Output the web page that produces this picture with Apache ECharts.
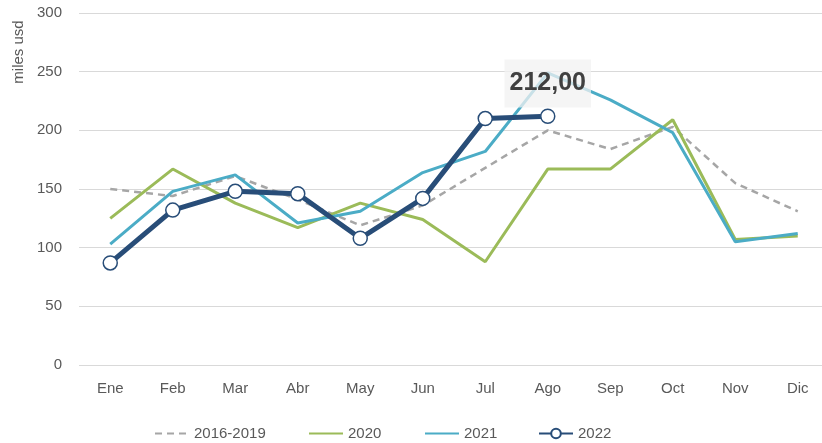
<!DOCTYPE html>
<html><head><meta charset="utf-8">
<script src="https://cdn.jsdelivr.net/npm/echarts@6/dist/echarts.min.js"></script>
<style>html,body{margin:0;padding:0;background:#fff}#c{width:822px;height:443px}</style>
</head><body><div id="c"></div>
<script>
const months = ['Ene','Feb','Mar','Abr','May','Jun','Jul','Ago','Sep','Oct','Nov','Dic'];
const avg1619 = [150,144,161,141,119,136,168,200,184,203,155,131];
const y2020 = [125,167,138,117,138,124,88,167,167,209,107,110];
const y2021 = [103,148,162,121,131,164,182,249,226,198,105,112];
const y2022 = [87,132,148,146,108,142,210,212];
const yTicks = {min:0, max:300, interval:50};
const yName = 'miles usd';
const labelText = '212,00';

const chart = echarts.init(document.getElementById('c'), null, {renderer:'canvas'});
const font = 'Liberation Sans, Arial, sans-serif';
const txt = '#595959';
const lastIdx = y2022.length - 1;
function legendAt(left, name, hideSym){
  const item = hideSym ? {name:name, itemStyle:{opacity:0}} : {name:name};
  return {data:[item], left:left, top:421, itemWidth:34, itemHeight:12, itemGap:4,
    textStyle:{fontFamily:font, fontSize:15, color:txt}, selectedMode:false};
}
chart.setOption({
  animation:false,
  grid:{left:79, width:750, top:13, bottom:78, outerBoundsMode:'none', containLabel:false},
  graphic:[{type:'text', x:19, y:52, rotation:Math.PI/2,
    style:{text:yName, font:'15px Liberation Sans, Arial, sans-serif', fill:txt,
      align:'center', verticalAlign:'middle'}}],
  legend:[legendAt(149,'2016-2019',true), legendAt(303,'2020',true), legendAt(419,'2021',true), legendAt(533,'2022',false)],
  xAxis:{type:'category', data:months, boundaryGap:true,
    axisLine:{show:false}, axisTick:{show:false},
    axisLabel:{fontFamily:font, fontSize:15, color:txt, margin:16}},
  yAxis:{type:'value', min:yTicks.min, max:yTicks.max, interval:yTicks.interval,
    axisLine:{show:false}, axisTick:{show:false},
    axisLabel:{fontFamily:font, fontSize:15, color:txt, margin:17},
    splitLine:{lineStyle:{color:'#d9d9d9', width:1}}},
  series:[
    {name:'2016-2019', type:'line', data:avg1619, symbol:'none',
      lineStyle:{color:'#a6a6a6', width:2.5, type:[7,5]}, itemStyle:{color:'#a6a6a6'}},
    {name:'2020', type:'line', data:y2020, symbol:'none',
      lineStyle:{color:'#9bbb59', width:3}, itemStyle:{color:'#9bbb59'}},
    {name:'2021', type:'line', data:y2021, symbol:'none',
      lineStyle:{color:'#4bacc6', width:3}, itemStyle:{color:'#4bacc6'}},
    {name:'2022', type:'line', z:5,
      data:y2022.map((v,i)=> i===lastIdx ? {value:v, label:{show:true}} : v),
      symbol:'circle', symbolSize:14,
      lineStyle:{color:'#284d78', width:5},
      itemStyle:{color:'#ffffff', borderColor:'#284d78', borderWidth:1.5},
      label:{show:false, position:'top', distance:1, formatter:()=>labelText,
        fontFamily:font, fontSize:25, fontWeight:'bold', color:'#404040', lineHeight:30,
        backgroundColor:'rgba(242,242,242,0.75)', padding:[9,5,9,5]}}
  ]
});
</script></body></html>
